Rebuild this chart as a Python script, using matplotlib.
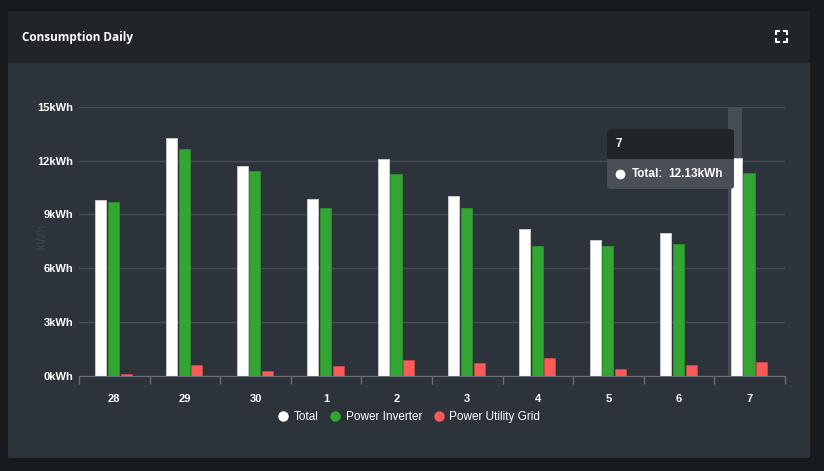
import matplotlib
matplotlib.use("Agg")
import matplotlib.pyplot as plt
from matplotlib.patches import Rectangle, FancyBboxPatch
from matplotlib.lines import Line2D

days = ["28", "29", "30", "1", "2", "3", "4", "5", "6", "7"]
total = [9.80, 13.28, 11.68, 9.85, 12.07, 10.02, 8.17, 7.58, 7.95, 12.13]
inverter = [9.69, 12.68, 11.45, 9.33, 11.23, 9.35, 7.22, 7.22, 7.34, 11.30]
grid = [0.10, 0.58, 0.24, 0.54, 0.85, 0.69, 0.97, 0.39, 0.61, 0.76]
series_names = ["Total", "Power Inverter", "Power Utility Grid"]
y_ticks = [0, 3, 6, 9, 12, 15]
hover_idx = 9

W, H = 824, 471
BG = "#181b1e"
HEAD = "#212529"
BODY = "#2d333b"
TIP = "#4a4f57"
colors = ["#ffffff", "#33a532", "#ff5a5a"]
edges = ["#d0d0d0", "#2c8f2b", "#c94848"]


def fx(x):
    return x / W


def fy(y):
    return 1 - y / H


fig = plt.figure(figsize=(W / 100, H / 100), dpi=100, facecolor=BG)

# card
fig.add_artist(FancyBboxPatch((fx(8), fy(458)), fx(802), 447 / H,
                              boxstyle="round,pad=0,rounding_size=0.005",
                              transform=fig.transFigure, fc=BODY, ec="none", zorder=-5))
fig.add_artist(Rectangle((fx(8), fy(63)), fx(802), 52 / H,
                         transform=fig.transFigure, fc=HEAD, ec="none", zorder=-4))
fig.text(fx(22), fy(37), "Consumption Daily", color="white", fontsize=8.5,
         fontweight="bold", family="Open Sans", va="center")

# expand icon
for cx, cy, dx, dy in [(776, 31, 1, 1), (787, 31, -1, 1), (776, 42, 1, -1), (787, 42, -1, -1)]:
    fig.add_artist(Line2D([fx(cx), fx(cx), fx(cx + 3 * dx)],
                          [fy(cy + 3 * dy), fy(cy), fy(cy)],
                          transform=fig.transFigure, color="white", lw=1.5))

ax = fig.add_axes([fx(79), fy(375.5), fx(785 - 79), (375.5 - 107) / H])
ax.set_facecolor("none")
ax.set_xlim(-0.5, len(days) - 0.5)
ax.set_ylim(0, 15)

offsets = [-0.19, -0.01, 0.17]
bw = 0.156
for k, vals in enumerate([total, inverter, grid]):
    xs = [i + offsets[k] for i in range(len(days))]
    ax.bar(xs, vals, width=bw, color=colors[k], edgecolor=edges[k], linewidth=0.6, zorder=3)

# hover band
ax.axvspan(hover_idx + offsets[0] - 0.115, hover_idx + offsets[0] + 0.08,
           color="#464c54", zorder=2, lw=0)

ax.set_yticks(y_ticks)
ax.set_yticklabels([f"{v}kWh" for v in y_ticks])
ax.set_xticks(range(len(days)))
ax.set_xticklabels(days)
ax.set_xticks([i - 0.5 for i in range(len(days) + 1)], minor=True)
ax.tick_params(axis="x", which="major", length=0, pad=13, colors="white", labelsize=8)
ax.tick_params(axis="x", which="minor", length=6, color="#6b7078", width=1)
ax.tick_params(axis="y", length=0, pad=4, colors="white", labelsize=8)
for lab in ax.get_xticklabels() + ax.get_yticklabels():
    lab.set_fontweight("bold")
    lab.set_family("Liberation Sans")
ax.grid(axis="y", color="#474d55", lw=1, zorder=1)
for s in ["top", "right", "left"]:
    ax.spines[s].set_visible(False)
ax.spines["bottom"].set_color("#6b7078")
ax.spines["bottom"].set_zorder(4)
ax.set_ylabel("kWh", color="#394047", fontsize=9, fontweight="bold",
              family="Liberation Sans")
ax.yaxis.set_label_coords(-0.044, 0.515)

# tooltip
fig.add_artist(FancyBboxPatch((fx(607), fy(189)), fx(127), 60 / H,
                              boxstyle="round,pad=0,rounding_size=0.006",
                              transform=fig.transFigure, fc=TIP, ec="none", zorder=10))
fig.add_artist(FancyBboxPatch((fx(607), fy(159)), fx(127), 30 / H,
                              boxstyle="round,pad=0,rounding_size=0.006",
                              transform=fig.transFigure, fc=HEAD, ec="none", zorder=10))
fig.add_artist(Rectangle((fx(607), fy(159)), fx(127), 8 / H,
                         transform=fig.transFigure, fc=HEAD, ec="none", zorder=10))
fig.text(fx(616), fy(144), days[hover_idx], color="white", fontsize=8.5,
         fontweight="bold", family="Liberation Sans", va="center", zorder=11)
fig.add_artist(Line2D([fx(620)], [fy(174)], marker="o", ms=6, color="white",
                      transform=fig.transFigure, zorder=11))
fig.text(fx(632), fy(174), "Total:", color="white", fontsize=8.5,
         fontweight="bold", family="Liberation Sans", va="center", zorder=11)
fig.text(fx(668), fy(174), f"{total[hover_idx]:.2f}kWh", color="white", fontsize=8.5,
         fontweight="bold", family="Liberation Sans", va="center", zorder=11)

# legend
handles = [Line2D([], [], marker="o", ls="none", ms=6.5, color=c) for c in colors]
fig.legend(handles, series_names, loc="center", bbox_to_anchor=(fx(407), fy(417)),
           ncol=3, frameon=False, labelcolor="white", handletextpad=0.1,
           handlelength=1.6, columnspacing=0.6,
           prop={"family": "Liberation Sans", "size": 8.5})

fig.savefig("out.png", dpi=100, facecolor=BG)
